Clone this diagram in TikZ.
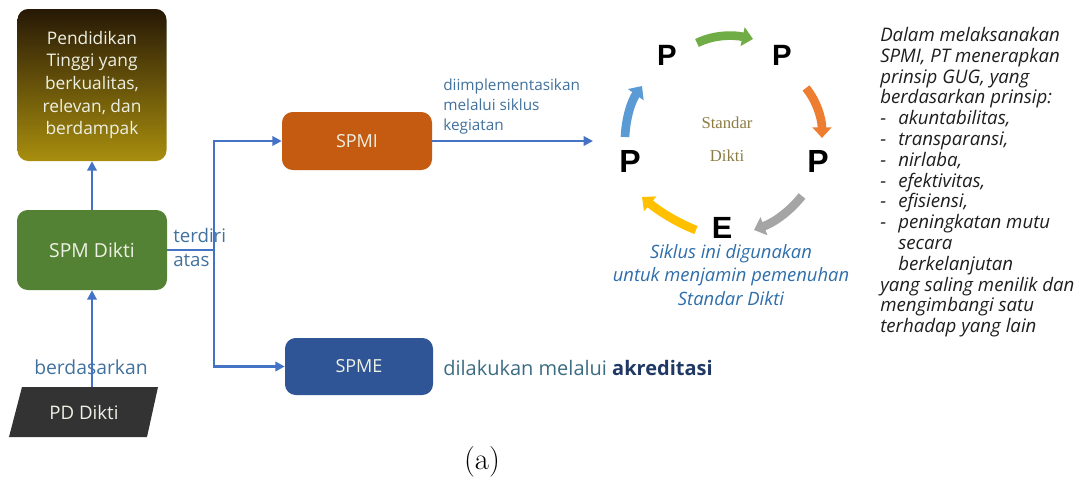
\documentclass[tikz,border=0pt]{standalone}
\usepackage{fontspec}
\setsansfont{Open Sans}
\newfontfamily\pfont{Liberation Sans}
\newfontfamily\serfont{Liberation Serif}
\usetikzlibrary{arrows.meta}

\definecolor{linkblue}{RGB}{68,114,196}
\definecolor{labelblue}{RGB}{65,113,156}
\definecolor{dilakcol}{RGB}{60,108,130}
\definecolor{akrcol}{RGB}{31,56,100}
\definecolor{goaltop}{RGB}{38,24,6}
\definecolor{goalbot}{RGB}{168,142,14}
\definecolor{sdgreen}{RGB}{84,130,53}
\definecolor{spmiorange}{RGB}{197,90,17}
\definecolor{spmeblue}{RGB}{47,85,151}
\definecolor{pddark}{RGB}{51,51,51}
\definecolor{boxtext}{RGB}{238,240,228}
\definecolor{cgreen}{RGB}{112,173,71}
\definecolor{corange}{RGB}{237,125,49}
\definecolor{cgray}{RGB}{165,165,165}
\definecolor{cyellow}{RGB}{255,192,0}
\definecolor{cblue}{RGB}{91,155,213}
\definecolor{stdcol}{RGB}{140,124,68}
\definecolor{siklcol}{RGB}{46,110,170}
\definecolor{gugcol}{RGB}{30,30,30}

\newcommand\dashitem{\makebox[13.5pt][l]{-}}
\newcommand\itemgap{\hspace*{13.5pt}}

\tikzset{
  conn/.style={draw=linkblue, line width=2.2pt, -{Triangle[length=7pt,width=7pt]}},
  wire/.style={draw=linkblue, line width=2.2pt},
  box/.style={rounded corners=8pt, inner sep=0pt, align=center, text=boxtext,
    font=\sffamily\fontsize{13}{16.9}\selectfont},
  cyc/.style={line width=6.5pt, -{Triangle[length=8pt,width=14pt]}},
  pletter/.style={font=\pfont\bfseries\fontsize{22}{22}\selectfont, inner sep=0pt},
}

\begin{document}
\begin{tikzpicture}[x=0.75pt,y=0.75pt,yscale=-1,xscale=1]
        \useasboundingbox (0,0) rectangle (1090,486);

        %Rounded Rect: goal
        \node [box, minimum width=111.75pt, minimum height=114pt, top color=goaltop, bottom color=goalbot] (goal) at (92,85) {Pendidikan\\Tinggi yang\\berkualitas,\\relevan, dan\\berdampak};
        %Rounded Rect: SPM Dikti
        \node [box, fill=sdgreen, minimum width=112.5pt, minimum height=60pt, font=\sffamily\fontsize{14.5}{17}\selectfont] (sdikti) at (92,250) {SPM Dikti};
        %Rounded Rect: SPMI
        \node [box, fill=spmiorange, minimum width=112.5pt, minimum height=43.5pt, font=\sffamily\fontsize{13.5}{16}\selectfont] (spmi) at (357,141) {SPMI};
        %Rounded Rect: SPME
        \node [box, fill=spmeblue, minimum width=111pt, minimum height=42.75pt, font=\sffamily\fontsize{13.5}{16}\selectfont] (spme) at (359,366.5) {SPME};
        %Shape: Parallelogram
        \fill [pddark] (9,437) -- (22,387) -- (158,387) -- (147,437) -- cycle ;
        \node [inner sep=0pt, minimum height=37.5pt, text=boxtext, font=\sffamily\fontsize{14}{16}\selectfont] (pd) at (84,412) {PD Dikti};

        % Text Node
        \node [inner sep=0pt, text=labelblue, font=\sffamily\fontsize{14.5}{17}\selectfont] (berdas) at (91,367) {berdasarkan};
        % Text Node
        \node [anchor=north west, inner sep=0pt, align=left, text=labelblue, font=\sffamily\fontsize{14}{18}\selectfont] (terdiri) at (173,228) {terdiri\\atas};
        % Text Node
        \node [anchor=north west, inner sep=0pt, align=left, text=labelblue, font=\sffamily\fontsize{11.5}{15}\selectfont] (impl) at (443,79) {diimplementasikan\\melalui siklus\\kegiatan};
        % Text Node
        \node [anchor=west, inner sep=0pt, text=dilakcol, font=\sffamily\fontsize{15}{17}\selectfont] (akr) at (443,368) {dilakukan melalui \textbf{\color{akrcol}akreditasi}};

        %Straight Lines
        \draw [conn] (sdikti.north) -- (goal.south) ;
        \draw [conn] (pd.north -| sdikti.south) -- (sdikti.south) ;
        \coordinate (split) at (214,250);
        \draw [wire] (sdikti.east) -- (split) ;
        \draw [conn] (split) |- (spmi.west) ;
        \draw [conn] (split) |- (spme.west) ;
        \coordinate (cycin) at (593,141);
        \draw [conn] (spmi.east) -- (cycin) ;

        % Cycle letters
        \node [pletter] (ptl) at (667,55) {P};
        \node [pletter] (ptr) at (782,55) {P};
        \node [pletter, font=\pfont\bfseries\fontsize{24}{24}\selectfont] (pri) at (818,161) {P};
        \node [pletter, font=\pfont\bfseries\fontsize{23}{23}\selectfont] (ebo) at (722,228) {E};
        \node [pletter, font=\pfont\bfseries\fontsize{24}{24}\selectfont] (ple) at (630,161) {P};

        %Curve Lines: cycle arrows
        \draw [cyc, cgreen] (697,43) .. controls (715,34) and (735,35) .. (753,39) ;
        \draw [cyc, corange] (806,88) .. controls (816,100) and (822,118) .. (822,138) ;
        \draw [cyc, cgray] (802,196) .. controls (790,211) and (775,222) .. (754,230) ;
        \draw [cyc, cyellow] (696,230) .. controls (678,223) and (660,212) .. (642,197) ;
        \draw [cyc, cblue] (625,137) .. controls (626,116) and (632,100) .. (642,86) ;

        % Text Node
        \node [inner sep=0pt, align=center, text=stdcol, font=\serfont\fontsize{12.5}{24.75}\selectfont] (std) at (727,139) {Standar\\Dikti};
        % Text Node
        \node [inner sep=0pt, align=center, text=siklcol, font=\sffamily\itshape\fontsize{13.8}{17.6}\selectfont] (siklus) at (731,275) {Siklus ini digunakan\\untuk menjamin pemenuhan\\Standar Dikti};
        % Text Node
        \node [anchor=north west, inner sep=0pt, align=left, text=gugcol, font=\sffamily\itshape\fontsize{14}{15.6}\selectfont] (gug) at (880,27) {Dalam melaksanakan\\SPMI, PT menerapkan\\prinsip GUG, yang\\berdasarkan prinsip:\\\dashitem akuntabilitas,\\\dashitem transparansi,\\\dashitem nirlaba,\\\dashitem efektivitas,\\\dashitem efisiensi,\\\dashitem peningkatan mutu\\\itemgap secara\\\itemgap berkelanjutan\\yang saling menilik dan\\mengimbangi satu\\terhadap yang lain};
        % Text Node
        \node [inner sep=0pt, font=\fontsize{23}{25}\selectfont] (cap) at (482,462) {(a)};
\end{tikzpicture}
\end{document}
